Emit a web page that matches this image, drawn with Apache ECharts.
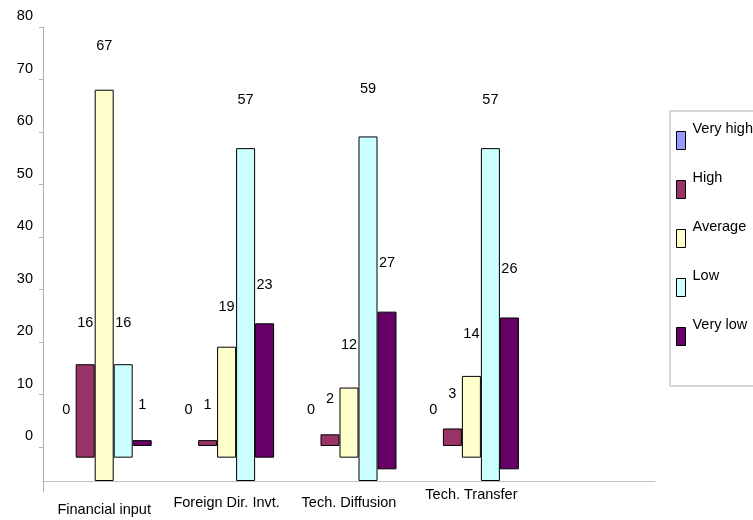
<!DOCTYPE html>
<html>
<head>
<meta charset="utf-8">
<script src="https://cdn.jsdelivr.net/npm/echarts@6/dist/echarts.min.js"></script>
<style>
  html, body { margin: 0; padding: 0; background: #fff; }
  #chart { width: 753px; height: 520px; }
</style>
</head>
<body>
<div id="chart"></div>
<script>
  // categories (last slot is empty, like the original sheet)
  var categories = ['Financial input', 'Foreign Dir. Invt.', 'Tech. Diffusion', 'Tech. Transfer', '']
  var levels = ['Very high', 'High', 'Average', 'Low', 'Very low']

  // answers per level
  var veryHigh = [0, 0, 0, 0]
  var high = [16, 1, 2, 3]
  var average = [67, 19, 12, 14]
  var low = [16, 57, 59, 57]
  var veryLow = [1, 23, 27, 26]

  // the old chart draws every bar from a slightly different floor
  var floorVeryHigh = [6, 6, 6, 6]
  var floorHigh = [4, 6, 6, 6]
  var floorAverage = [0, 4, 4, 4]
  var floorLow = [4, 0, 0, 0]
  var floorVeryLow = [6, 4, 2, 2]

  var yTicks = [0, 10, 20, 30, 40, 50, 60, 70, 80]

  var colors = ['#9999ff', '#993366', '#ffffcc', '#ccffff', '#660066']
  var values = [veryHigh, high, average, low, veryLow]
  var floors = [floorVeryHigh, floorHigh, floorAverage, floorLow, floorVeryLow]

  var font = 'Liberation Sans'
  var fs = 14.5
  var chart = echarts.init(document.getElementById('chart'))

  var series = []
  levels.forEach(function (name, i) {
    // invisible floor
    series.push({
      name: 'floor-' + name,
      type: 'bar',
      xAxisIndex: 0,
      yAxisIndex: 1,
      stack: name,
      barWidth: 19,
      barGap: '0%',
      silent: true,
      itemStyle: { color: 'transparent' },
      data: floors[i]
    })
    // the bar itself
    series.push({
      name: name,
      type: 'bar',
      xAxisIndex: 0,
      yAxisIndex: 1,
      stack: name,
      barWidth: 19,
      barGap: '0%',
      itemStyle: {
        color: colors[i],
        borderColor: '#000',
        borderWidth: i === 0 ? 0 : 1
      },
      data: values[i]
    })
    // value labels, on their own scale
    series.push({
      name: 'label-' + name,
      type: 'bar',
      xAxisIndex: 1,
      yAxisIndex: 2,
      barWidth: 19,
      barGap: '0%',
      silent: true,
      itemStyle: { color: 'transparent' },
      label: {
        show: true,
        position: 'top',
        distance: 0,
        color: '#000',
        fontFamily: font,
        fontSize: fs
      },
      data: values[i]
    })
  })

  chart.setOption({
    animation: false,
    grid: { left: 43, right: 98, top: 27, bottom: 28 },
    legend: {
      orient: 'vertical',
      left: 670,
      top: 111,
      data: levels.map(function (n, i) {
        return { name: n, itemStyle: { color: colors[i], borderColor: '#000', borderWidth: 1 } }
      }),
      itemWidth: 9,
      itemHeight: 18,
      itemGap: 20,
      icon: 'rect',
      padding: [10, 40, 40, 6],
      borderColor: '#b0b0b0',
      borderWidth: 1,
      selectedMode: false,
      formatter: '{t|{name}}',
      textStyle: {
        color: '#000',
        fontFamily: font,
        fontSize: fs,
        rich: {
          t: { fontFamily: font, fontSize: fs, color: '#000', padding: [0, 0, 24, 2] }
        }
      }
    },
    xAxis: [
      {
        type: 'category',
        data: [
          { value: categories[0], textStyle: { padding: [15, 0, 0, 0] } },
          { value: categories[1], textStyle: { padding: [8, 0, 0, 0] } },
          { value: categories[2], textStyle: { padding: [8, 0, 0, 0] } },
          { value: categories[3] },
          { value: categories[4] }
        ],
        offset: -11,
        axisLine: { onZero: false, lineStyle: { color: '#c0c0c0', width: 1 } },
        axisTick: { show: false },
        axisLabel: {
          interval: 0,
          margin: 6,
          color: '#000',
          fontFamily: font,
          fontSize: fs
        }
      },
      {
        type: 'category',
        data: categories,
        show: false
      }
    ],
    yAxis: [
      {
        type: 'value',
        min: -8.57,
        max: 80,
        axisLine: { show: true, lineStyle: { color: '#b0b0b0', width: 1 } },
        axisTick: { show: true, length: 4, customValues: yTicks, lineStyle: { color: '#b0b0b0' } },
        axisLabel: {
          customValues: yTicks,
          margin: 10,
          color: '#000',
          fontFamily: font,
          fontSize: fs,
          formatter: '{t|{value}}',
          rich: {
            t: { fontFamily: font, fontSize: fs, color: '#000', padding: [0, 0, 22, 0] }
          }
        },
        splitLine: { show: false }
      },
      { type: 'value', min: -1.88, max: 77.74, show: false, splitLine: { show: false } },
      { type: 'value', min: -13.7, max: 71.8, show: false, splitLine: { show: false } }
    ],
    series: series
  })
</script>
</body>
</html>
